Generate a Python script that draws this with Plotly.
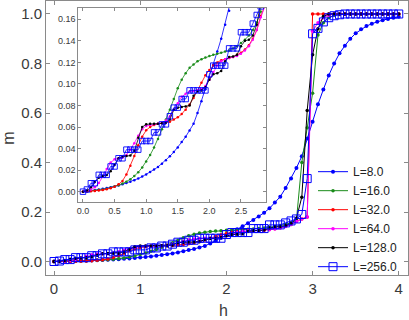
import plotly.graph_objects as go

# field values h (step 1/16)
h = [0.0, 0.0625, 0.125, 0.1875, 0.25, 0.3125, 0.375, 0.4375, 0.5, 0.5625, 0.625, 0.6875, 0.75, 0.8125, 0.875, 0.9375,
     1.0, 1.0625, 1.125, 1.1875, 1.25, 1.3125, 1.375, 1.4375, 1.5, 1.5625, 1.625, 1.6875, 1.75, 1.8125, 1.875, 1.9375,
     2.0, 2.0625, 2.125, 2.1875, 2.25, 2.3125, 2.375, 2.4375, 2.5, 2.5625, 2.625, 2.6875, 2.75, 2.8125, 2.875, 2.9375,
     3.0, 3.0625, 3.125, 3.1875, 3.25, 3.3125, 3.375, 3.4375, 3.5, 3.5625, 3.625, 3.6875, 3.75, 3.8125, 3.875, 3.9375, 4.0]

m_8 = [0, 0.0004, 0.0008, 0.0013, 0.0019, 0.0026, 0.0033, 0.0040, 0.0048, 0.0058, 0.0068, 0.0080, 0.0093, 0.0107, 0.0122, 0.0140,
       0.0160, 0.0182, 0.0205, 0.0230, 0.0260, 0.0292, 0.0328, 0.0368, 0.0410, 0.0460, 0.0510, 0.0568, 0.0630, 0.0730, 0.0840, 0.0950,
       0.106, 0.118, 0.130, 0.142, 0.155, 0.168, 0.182, 0.197, 0.215, 0.238, 0.262, 0.297, 0.335, 0.378, 0.425, 0.497,
       0.565, 0.635, 0.695, 0.752, 0.800, 0.841, 0.872, 0.900, 0.922, 0.938, 0.951, 0.961, 0.969, 0.975, 0.980, 0.985, 0.989]

m_16 = [0, 0.0003, 0.0006, 0.0010, 0.0015, 0.0020, 0.0027, 0.0036, 0.0047, 0.0060, 0.0075, 0.0093, 0.0115, 0.0145, 0.0180, 0.0225,
        0.028, 0.034, 0.041, 0.049, 0.058, 0.067, 0.076, 0.086, 0.096, 0.104, 0.110, 0.115, 0.118, 0.121, 0.123, 0.1245,
        0.126, 0.127, 0.128, 0.129, 0.130, 0.131, 0.133, 0.135, 0.138, 0.141, 0.145, 0.150, 0.157, 0.167, 0.400, 0.540,
        0.680, 0.915, 0.965, 0.985, 0.995, 0.998, 0.999, 1.0, 1.0, 1.0, 1.0, 1.0, 1.0, 1.0, 1.0, 1.0, 1.0]

m_32 = [0, 0.0002, 0.0004, 0.0007, 0.0010, 0.0015, 0.0022, 0.0032, 0.0046, 0.0068, 0.0100, 0.0160, 0.0240, 0.0330, 0.0430, 0.0510,
        0.057, 0.060, 0.062, 0.063, 0.0635, 0.064, 0.065, 0.067, 0.069, 0.072, 0.076, 0.081, 0.087, 0.094, 0.101, 0.108,
        0.113, 0.117, 0.120, 0.122, 0.123, 0.124, 0.125, 0.127, 0.129, 0.132, 0.136, 0.142, 0.150, 0.163, 0.172, 0.180,
        1.0, 1.0, 1.0, 1.0, 1.0, 1.0, 1.0, 1.0, 1.0, 1.0, 1.0, 1.0, 1.0, 1.0, 1.0, 1.0, 1.0]

m_64 = [0, 0.0008, 0.0020, 0.0040, 0.0080, 0.0140, 0.0210, 0.0270, 0.0300, 0.0310, 0.0315, 0.0340, 0.0390, 0.0450, 0.0520, 0.0580,
        0.061, 0.062, 0.0625, 0.063, 0.064, 0.066, 0.070, 0.076, 0.082, 0.088, 0.091, 0.093, 0.0935, 0.094, 0.095, 0.098,
        0.104, 0.111, 0.117, 0.121, 0.123, 0.124, 0.125, 0.126, 0.128, 0.131, 0.135, 0.141, 0.150, 0.162, 0.172, 0.180,
        0.930, 0.965, 0.985, 0.995, 1.0, 1.0, 1.0, 1.0, 1.0, 1.0, 1.0, 1.0, 1.0, 1.0, 1.0, 1.0, 1.0]

m_128 = [0, 0.0010, 0.0040, 0.0090, 0.0130, 0.0145, 0.0155, 0.0190, 0.0250, 0.0310, 0.0325, 0.0330, 0.0335, 0.0380, 0.0500, 0.0600,
         0.0625, 0.063, 0.063, 0.063, 0.0635, 0.064, 0.067, 0.076, 0.078, 0.0785, 0.079, 0.080, 0.089, 0.093, 0.094, 0.097,
         0.104, 0.109, 0.110, 0.112, 0.121, 0.125, 0.1255, 0.127, 0.135, 0.140, 0.141, 0.145, 0.155, 0.175, 0.260, 0.610,
         0.835, 0.940, 0.990, 1.0, 1.0, 1.0, 1.0, 1.0, 1.0, 1.0, 1.0, 1.0, 1.0, 1.0, 1.0, 1.0, 1.0]

m_256 = [0, 0.002, 0.0078, 0.0078, 0.0156, 0.0156, 0.0156, 0.0234, 0.0234, 0.031, 0.031, 0.039, 0.039, 0.039, 0.039, 0.047,
         0.047, 0.047, 0.055, 0.055, 0.0625, 0.0625, 0.070, 0.078, 0.078, 0.086, 0.086, 0.094, 0.094, 0.094, 0.094, 0.094,
         0.109, 0.117, 0.117, 0.117, 0.117, 0.133, 0.133, 0.133, 0.148, 0.148, 0.148, 0.156, 0.164, 0.172, 0.190, 0.335,
         0.920, 0.942, 0.968, 0.985, 0.993, 0.997, 1.0, 1.0, 1.0, 1.0, 1.0, 1.0, 1.0, 1.0, 1.0, 1.0, 1.0]

labels = ["L=8.0", "L=16.0", "L=32.0", "L=64.0", "L=128.0", "L=256.0"]
series = [m_8, m_16, m_32, m_64, m_128, m_256]
colors = ["#0000ff", "#1a8c1a", "#ff0000", "#ff00ff", "#000000", "#0000ff"]

main_ticks = [0, 1, 2, 3, 4]
main_yticks = [0.0, 0.2, 0.4, 0.6, 0.8, 1.0]
inset_xticks = [0.0, 0.5, 1.0, 1.5, 2.0, 2.5]
inset_yticks = [0.0, 0.02, 0.04, 0.06, 0.08, 0.10, 0.12, 0.14, 0.16]

fig = go.Figure()

for lab, m, c in zip(labels, series, colors):
    sq = lab == "L=256.0"
    fig.add_trace(go.Scatter(
        x=h, y=m, name=lab, mode="lines+markers",
        line=dict(color=c, width=1),
        marker=dict(symbol="square-open" if sq else "circle",
                    size=8 if sq else (4 if lab == "L=8.0" else 3.5),
                    color=c, line=dict(width=1 if sq else 0, color=c))
    ))

# inset, same data zoomed in
for lab, m, c in zip(labels, series, colors):
    sq = lab == "L=256.0"
    fig.add_trace(go.Scatter(
        x=h, y=m, name=lab, mode="lines+markers", showlegend=False,
        xaxis="x2", yaxis="y2",
        line=dict(color=c, width=0.8),
        marker=dict(symbol="square-open" if sq else "circle",
                    size=5.5 if sq else 2.5,
                    color=c, line=dict(width=0.9 if sq else 0, color=c))
    ))

ax = dict(showline=True, linecolor="#8a8a8a", linewidth=1, mirror="allticks",
          ticks="inside", tickcolor="#8a8a8a", showgrid=False, zeroline=False,
          automargin=False)

fig.update_layout(
    width=409, height=320,
    margin=dict(l=46, r=1, t=1, b=45),
    paper_bgcolor="white", plot_bgcolor="white",
    font=dict(family="Liberation Sans, Arial, sans-serif", size=15, color="#3a3a3a"),
    xaxis=dict(range=[-0.093, 4.107], tickvals=main_ticks, ticklen=4, **ax),
    yaxis=dict(range=[-0.0545, 1.0525], tickvals=main_yticks, tickformat=".1f", ticklen=4,
               title=dict(text="m", font=dict(size=16), standoff=6), **ax),
    xaxis2=dict(domain=[0.0892, 0.6077], anchor="y2", range=[-0.074, 2.896],
                tickvals=inset_xticks, tickformat=".1f", ticklen=3,
                tickfont=dict(size=9), **ax),
    yaxis2=dict(domain=[0.2664, 0.9745], anchor="x2", range=[-0.0096, 0.1705],
                tickvals=inset_yticks, tickformat=".2f", ticklen=3,
                tickfont=dict(size=9), **ax),
    legend=dict(x=0.7376, xanchor="left", y=0.43, yanchor="top",
                bgcolor="rgba(0,0,0,0)", font=dict(size=12, color="#222")),
)

# x axis title placed a bit lower than plotly puts it
fig.add_annotation(text="h", xref="paper", yref="paper", x=0.4917, y=-0.131,
                   xanchor="center", yanchor="middle", showarrow=False,
                   font=dict(size=16, color="#3a3a3a"))

fig.write_html("out.html", config={"displayModeBar": False},
               post_script="document.body.style.margin='0';")
